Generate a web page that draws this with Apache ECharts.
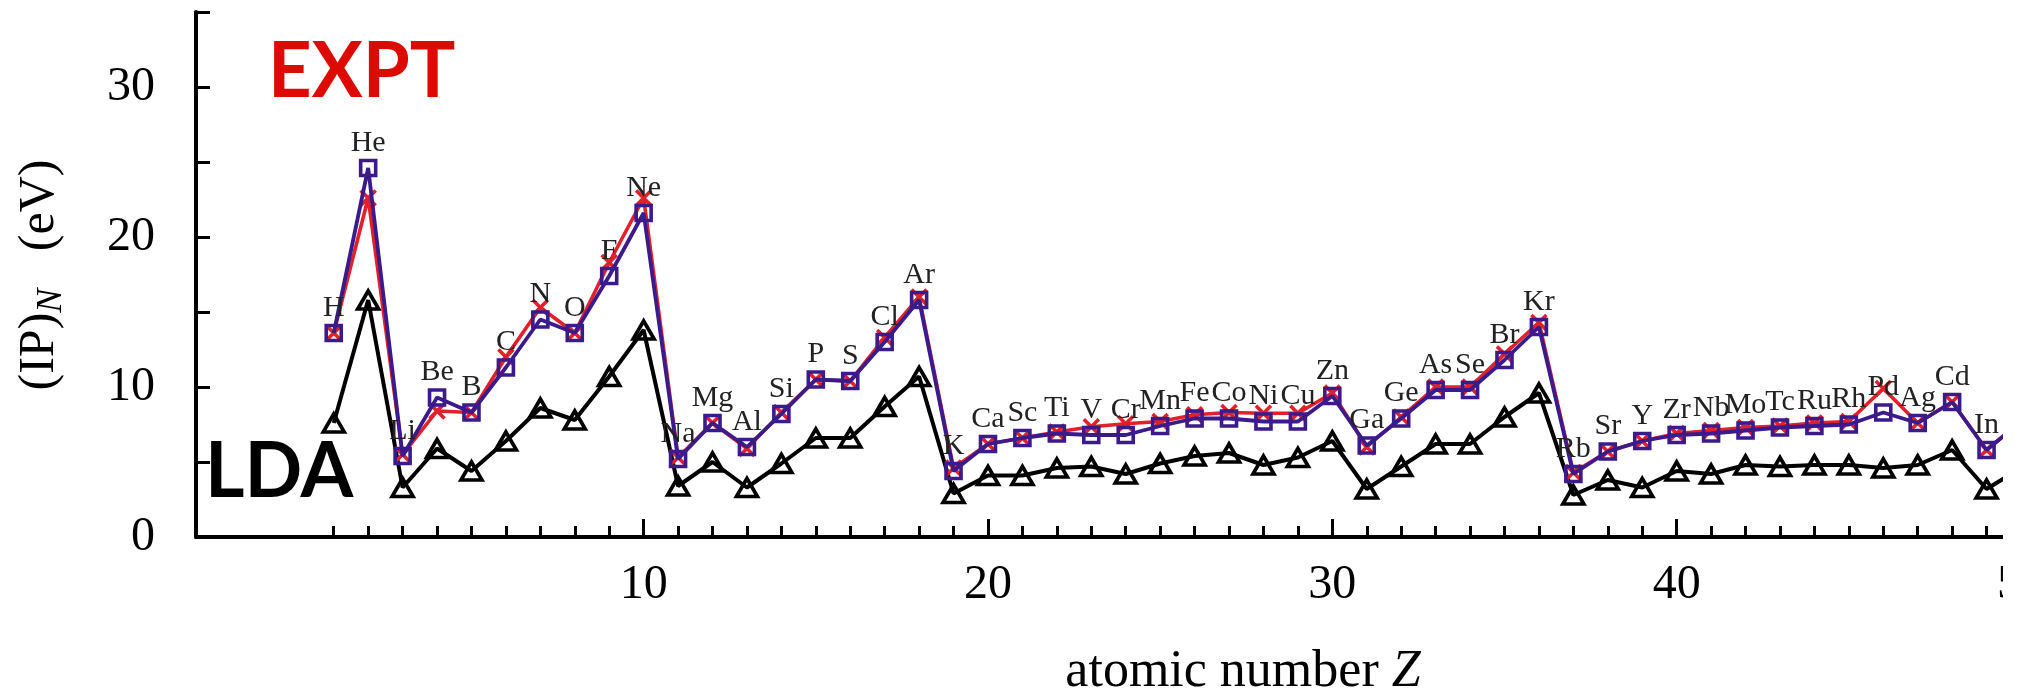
<!DOCTYPE html>
<html>
<head>
<meta charset="utf-8">
<script src="https://cdn.jsdelivr.net/npm/echarts@6/dist/echarts.min.js"></script>
<style>
  html, body { margin: 0; padding: 0; background: #fff; }
  #chart { width: 2020px; height: 693px; }
</style>
</head>
<body>
<div id="chart"></div>
<script>
// ---- data ----
const elements = ['H','He','Li','Be','B','C','N','O','F','Ne',
  'Na','Mg','Al','Si','P','S','Cl','Ar','K','Ca',
  'Sc','Ti','V','Cr','Mn','Fe','Co','Ni','Cu','Zn',
  'Ga','Ge','As','Se','Br','Kr','Rb','Sr','Y','Zr',
  'Nb','Mo','Tc','Ru','Rh','Pd','Ag','Cd','In','Sn'];

// red crosses
const ipRed = [13.6, 22.6, 5.5, 8.4, 8.3, 12.0, 15.3, 13.6, 18.3, 22.6,
  5.3, 7.6, 5.9, 8.3, 10.5, 10.4, 13.3, 16.0, 4.6, 6.2,
  6.6, 7.0, 7.35, 7.55, 7.7, 8.15, 8.3, 8.25, 8.25, 9.6,
  6.0, 8.0, 10.0, 10.0, 12.2, 14.3, 4.3, 5.7, 6.4, 6.9,
  7.1, 7.3, 7.4, 7.6, 7.7, 9.9, 7.6, 9.0, 5.8, 7.7];

// purple squares
const ipPurple = [13.6, 24.6, 5.4, 9.3, 8.3, 11.3, 14.5, 13.6, 17.4, 21.6,
  5.2, 7.6, 6.0, 8.2, 10.5, 10.4, 13.0, 15.8, 4.4, 6.2,
  6.6, 6.9, 6.8, 6.8, 7.4, 7.9, 7.9, 7.7, 7.7, 9.4,
  6.1, 7.9, 9.8, 9.8, 11.8, 14.0, 4.2, 5.7, 6.4, 6.8,
  6.9, 7.1, 7.3, 7.4, 7.5, 8.3, 7.6, 9.0, 5.8, 7.7];

// LDA black triangles
const ipLDA = [7.6, 15.8, 3.3, 5.9, 4.4, 6.4, 8.6, 7.8, 10.7, 13.8,
  3.4, 5.0, 3.3, 4.9, 6.6, 6.6, 8.7, 10.7, 2.9, 4.1,
  4.1, 4.6, 4.7, 4.2, 4.9, 5.4, 5.6, 4.8, 5.3, 6.4,
  3.2, 4.7, 6.2, 6.2, 8.0, 9.6, 2.8, 3.8, 3.3, 4.4,
  4.2, 4.8, 4.7, 4.8, 4.8, 4.6, 4.8, 5.8, 3.2, 4.6];

const minorTicks = elements.map((_, i) => i + 1);   // Z = 1 .. 50
const majorTicks = [10, 20, 30, 40, 50];
const yLabelValues = [0, 10, 20, 30];

// ---- chart ----
const atomicNumber = elements.map((_, i) => i + 1);
const pairs = arr => arr.map((v, i) => [atomicNumber[i], v]);

const serif = 'Liberation Serif';
const RED = '#e3202a', PURPLE = '#3b1a8c', BLACK = '#000';

const chart = echarts.init(document.getElementById('chart'), null, { renderer: 'canvas' });

chart.setOption({
  animation: false,
  backgroundColor: '#fff',
  grid: { left: 196, top: 12, width: 1825, height: 525, containLabel: false, outerBoundsMode: 'none' },
  xAxis: [
    {
      type: 'value', min: -3, max: 50,
      axisLine: { show: true, onZero: false, lineStyle: { color: BLACK, width: 4 } },
      axisTick: { show: true, inside: true, length: 11, lineStyle: { color: BLACK, width: 3 }, customValues: minorTicks },
      axisLabel: { show: false },
      splitLine: { show: false }
    },
    {
      type: 'value', min: -3, max: 50, position: 'bottom',
      axisLine: { show: false, onZero: false },
      axisTick: { show: true, inside: true, length: 18, lineStyle: { color: BLACK, width: 3 }, customValues: majorTicks },
      axisLabel: { show: true, customValues: majorTicks, margin: 24, fontFamily: serif, fontSize: 48, color: BLACK },
      splitLine: { show: false }
    }
  ],
  yAxis: {
    type: 'value', min: 0, max: 35, interval: 5,
    axisLine: { show: true, onZero: false, lineStyle: { color: BLACK, width: 4 } },
    axisTick: { show: true, inside: true, length: 14, lineStyle: { color: BLACK, width: 3 } },
    axisLabel: {
      margin: 41, fontFamily: serif, fontSize: 48, color: BLACK,
      formatter: v => (yLabelValues.indexOf(v) >= 0 ? String(v) : '')
    },
    splitLine: { show: false }
  },
  series: [
    {
      name: 'LDA', type: 'line', xAxisIndex: 0,
      data: pairs(ipLDA),
      showAllSymbol: true,
      symbol: 'triangle', symbolSize: [21, 18],
      itemStyle: { color: 'rgba(255,255,255,0)', borderColor: BLACK, borderWidth: 3.6 },
      lineStyle: { color: BLACK, width: 4 },
      emphasis: { disabled: true }, z: 2
    },
    {
      name: 'EXPT', type: 'line', xAxisIndex: 0,
      data: pairs(ipRed),
      showAllSymbol: true,
      symbol: 'path://M0,0L10,10M10,0L0,10', symbolSize: 15,
      itemStyle: { color: RED, borderColor: RED, borderWidth: 3.6 },
      lineStyle: { color: RED, width: 3.6 },
      emphasis: { disabled: true }, z: 3
    },
    {
      name: 'reference', type: 'line', xAxisIndex: 0,
      data: pairs(ipPurple),
      showAllSymbol: true,
      symbol: 'rect', symbolSize: 15,
      itemStyle: { color: 'rgba(255,255,255,0)', borderColor: PURPLE, borderWidth: 3.6 },
      lineStyle: { color: PURPLE, width: 3.8 },
      label: {
        show: true, position: 'top', distance: 1,
        fontFamily: serif, fontSize: 30, color: '#222',
        formatter: p => elements[p.dataIndex]
      },
      emphasis: { disabled: true }, z: 4
    }
  ],
  graphic: [
    {
      type: 'text', z: 50,
      style: { text: 'EXPT', x: 268, y: 72, textAlign: 'left', textVerticalAlign: 'middle',
               font: 'bold 76px Lato', fill: '#dc0a00' }
    },
    {
      type: 'text', z: 50,
      style: { text: 'LDA', x: 205, y: 472, textAlign: 'left', textVerticalAlign: 'middle',
               font: 'bold 76px Lato', fill: '#000' }
    },
    {
      type: 'text', z: 50,
      x: 40, y: 275, rotation: Math.PI / 2,
      style: {
        text: '{a|(IP)}{s|N}{a|   (eV)}', x: 0, y: 0, textAlign: 'center', textVerticalAlign: 'middle',
        rich: {
          a: { fontFamily: serif, fontSize: 50, lineHeight: 60, fill: BLACK, color: BLACK },
          s: { fontFamily: serif, fontSize: 36, fontStyle: 'italic', lineHeight: 36, verticalAlign: 'bottom', fill: BLACK, color: BLACK }
        }
      }
    },
    {
      type: 'text', z: 50,
      style: {
        text: '{a|atomic number }{z|Z}', x: 1243, y: 672, textAlign: 'center', textVerticalAlign: 'middle',
        rich: {
          a: { fontFamily: serif, fontSize: 52, color: BLACK, fill: BLACK },
          z: { fontFamily: serif, fontSize: 52, fontStyle: 'italic', color: BLACK, fill: BLACK }
        }
      }
    },
    {
      type: 'rect', z: 100,
      shape: { x: 2003, y: 0, width: 40, height: 693 },
      style: { fill: '#fff' }
    }
  ]
});
</script>
</body>
</html>
